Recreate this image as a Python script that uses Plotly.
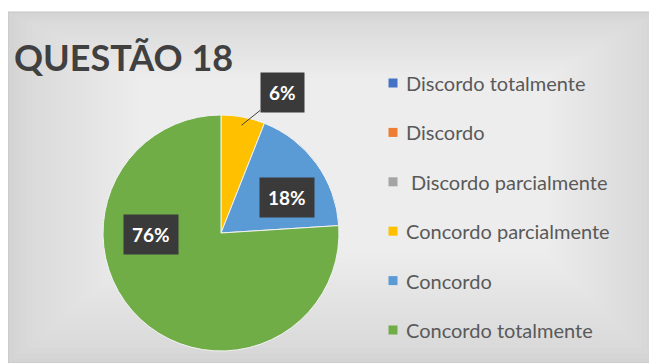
import math
import plotly.graph_objects as go

# Chart data
TITLE = "QUESTÃO 18"
CATEGORIES = ["Discordo totalmente", "Discordo", "Discordo parcialmente",
              "Concordo parcialmente", "Concordo", "Concordo totalmente"]
PERCENTS = [0, 0, 0, 6, 18, 76]
COLORS = ["#4472C4", "#ED7D31", "#A5A5A5", "#FFC000", "#5B9BD5", "#70AD47"]

# Layout constants (pixels, page coords; the page body adds an 8px offset)
OFF = 8
W, H = 657 - OFF, 363 - OFF
CX, CY, R = 221, 233, 118  # pie centre and radius
LABEL_BOX = {3: (282, 93), 4: (287, 198), 5: (151, 234)}  # data label box centres
LEGEND_X, LEGEND_Y0, LEGEND_DY = 393, 83, 49.4


def px(x):
    return (x - OFF) / W


def py(y):
    return 1 - (y - OFF) / H


fig = go.Figure()
fig.add_trace(go.Pie(
    labels=CATEGORIES, values=PERCENTS, sort=False,
    direction="clockwise", rotation=0,
    marker=dict(colors=COLORS, line=dict(color="#f2f2f2", width=1)),
    textinfo="none", hoverinfo="label+percent", showlegend=False,
    domain=dict(x=[px(CX - R), px(CX + R)], y=[py(CY + R), py(CY - R)]),
))

# background frame with a soft gradient
shapes = [dict(type="rect", xref="paper", yref="paper", x0=px(8), x1=px(657), y0=py(363), y1=py(12),
               fillcolor="#d4d4d4", line=dict(color="#c4c4c4", width=1), layer="below")]
for k in range(1, 25):
    shapes.append(dict(type="rect", xref="paper", yref="paper",
                       x0=px(8 + 6 * k), x1=px(657 - 5 * k), y0=py(363 - 5 * k), y1=py(12 + 3 * k),
                       fillcolor="rgba(255,255,255,0.05)", line=dict(width=0), layer="below"))

annotations = [dict(text=TITLE, x=px(12), y=py(57), xref="paper", yref="paper",
                    xanchor="left", yanchor="middle", showarrow=False,
                    font=dict(family="Lato", size=36, color="#404040", weight="bold"))]

# data labels (dark boxes)
total = sum(PERCENTS)
cum = 0
for i, v in enumerate(PERCENTS):
    if v > 0:
        bx, by = LABEL_BOX[i]
        lab = dict(text=f"{round(100 * v / total)}%", xref="paper", yref="paper",
                   font=dict(family="Lato", size=19, color="white", weight="bold"),
                   bgcolor="#3a3a3a", borderpad=8, xanchor="center", yanchor="middle")
        if i == 3:
            ang = math.radians(360 * (cum + v / 2) / total)
            tx = CX + 0.93 * R * math.sin(ang)
            ty = CY - 0.93 * R * math.cos(ang)
            lab.update(x=px(tx), y=py(ty), showarrow=True, arrowhead=0, arrowwidth=1,
                       arrowcolor="#404040", ax=bx - tx, ay=by - ty)
        else:
            lab.update(x=px(bx), y=py(by), showarrow=False)
        annotations.append(lab)
    cum += v

# legend
for i, (name, col) in enumerate(zip(CATEGORIES, COLORS)):
    y = LEGEND_Y0 + i * LEGEND_DY
    shapes.append(dict(type="rect", xref="paper", yref="paper",
                       x0=px(LEGEND_X - 4.5), x1=px(LEGEND_X + 4.5), y0=py(y + 4.5), y1=py(y - 4.5),
                       fillcolor=col, line=dict(width=0)))
    annotations.append(dict(text=name, x=px(LEGEND_X + 11 + (5 if i == 2 else 0)), y=py(y),
                            xref="paper", yref="paper", xanchor="left", yanchor="middle",
                            showarrow=False, font=dict(family="Lato", size=20, color="#595959")))

fig.update_layout(
    width=W, height=H, margin=dict(l=0, r=0, t=0, b=0),
    paper_bgcolor="white", plot_bgcolor="white",
    shapes=shapes, annotations=annotations,
)

fig.write_html("out.html")
